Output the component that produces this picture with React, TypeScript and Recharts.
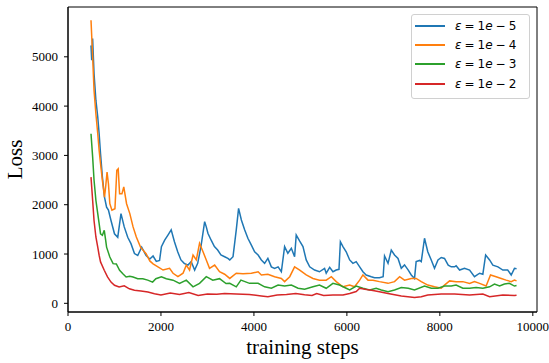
import React from 'react';
import { LineChart, Line, XAxis, YAxis, ReferenceArea, Legend } from 'recharts';

const xTicks = [0, 2000, 4000, 6000, 8000, 10000];
const yTicks = [0, 1000, 2000, 3000, 4000, 5000];
const seriesExponents = ['5', '4', '3', '2'];
const seriesColors = ['#1f77b4', '#ff7f0e', '#2ca02c', '#d62728'];

const blueSteps = [495, 510, 530, 560, 600, 640, 670, 700, 740, 785, 830, 870, 925, 1000, 1070, 1140, 1210, 1285, 1355, 1430, 1500, 1585, 1680, 1760, 1830, 1900, 1970, 2010, 2080, 2150, 2220, 2290, 2360, 2430, 2500, 2580, 2650, 2725, 2790, 2860, 2940, 2975, 3010, 3080, 3150, 3220, 3290, 3370, 3440, 3480, 3550, 3620, 3670, 3730, 3800, 3870, 3945, 4015, 4090, 4160, 4230, 4300, 4375, 4445, 4520, 4590, 4660, 4730, 4805, 4875, 4910, 4985, 5055, 5125, 5200, 5305, 5410, 5520, 5555, 5630, 5700, 5770, 5830, 5860, 5915, 5985, 6060, 6130, 6200, 6275, 6345, 6415, 6525, 6595, 6700, 6780, 6810, 6885, 6955, 7025, 7100, 7170, 7240, 7320, 7385, 7455, 7490, 7565, 7600, 7670, 7740, 7815, 7885, 7960, 8030, 8100, 8180, 8245, 8315, 8350, 8425, 8530, 8640, 8745, 8855, 8925, 8985, 9070, 9140, 9250, 9355, 9460, 9535, 9605, 9650];
const blueLoss = [5230, 4930, 5370, 4660, 4120, 3780, 3440, 3035, 2560, 2155, 1950, 1890, 1680, 1410, 1340, 1820, 1550, 1340, 1210, 1010, 970, 1140, 970, 900, 960, 850, 870, 1150, 1280, 1385, 1490, 1250, 1045, 880, 810, 775, 845, 675, 810, 1150, 1655, 1550, 1420, 1280, 1150, 1080, 980, 945, 910, 880, 945, 1490, 1925, 1690, 1490, 1320, 1180, 1045, 980, 880, 810, 910, 740, 710, 740, 640, 1150, 1015, 1115, 945, 1385, 1260, 1150, 880, 740, 675, 640, 710, 610, 730, 640, 675, 690, 1250, 1150, 1045, 880, 810, 845, 740, 640, 575, 540, 520, 520, 540, 960, 810, 1080, 980, 910, 710, 780, 675, 575, 505, 845, 870, 845, 1320, 1045, 880, 710, 880, 930, 910, 775, 740, 740, 760, 675, 710, 675, 540, 610, 590, 980, 880, 775, 740, 675, 675, 575, 710, 700];

const orangeSteps = [495, 530, 560, 600, 640, 670, 700, 740, 785, 810, 840, 870, 900, 945, 1010, 1050, 1080, 1110, 1160, 1200, 1260, 1330, 1400, 1470, 1560, 1680, 1760, 1830, 1900, 2045, 2185, 2260, 2365, 2475, 2545, 2615, 2690, 2760, 2830, 2905, 2975, 3045, 3155, 3260, 3370, 3480, 3620, 3765, 3945, 4090, 4160, 4300, 4445, 4590, 4660, 4770, 4875, 4985, 5125, 5270, 5410, 5555, 5665, 5770, 5915, 6060, 6165, 6275, 6345, 6455, 6560, 6700, 6885, 7025, 7135, 7240, 7385, 7490, 7600, 7740, 7885, 8030, 8100, 8210, 8350, 8495, 8640, 8745, 8855, 8995, 9090, 9210, 9320, 9425, 9535, 9605, 9650];
const orangeLoss = [5740, 5000, 4320, 3845, 3440, 3100, 2830, 2495, 2155, 2360, 2660, 2425, 2020, 1890, 1920, 2700, 2730, 2220, 2220, 2360, 2020, 1820, 1550, 1345, 1140, 1005, 860, 800, 760, 675, 710, 610, 540, 610, 775, 675, 980, 880, 1215, 1045, 880, 710, 775, 640, 590, 505, 610, 600, 610, 640, 575, 590, 540, 505, 440, 540, 740, 675, 575, 505, 470, 470, 540, 440, 335, 370, 335, 470, 575, 470, 470, 440, 405, 440, 540, 470, 505, 505, 440, 370, 335, 305, 370, 455, 440, 440, 405, 440, 405, 350, 575, 540, 505, 470, 440, 470, 455];

const greenSteps = [495, 530, 560, 600, 640, 670, 700, 740, 780, 810, 830, 900, 970, 1040, 1110, 1180, 1250, 1330, 1400, 1500, 1610, 1715, 1820, 1890, 2010, 2115, 2260, 2400, 2545, 2690, 2830, 2975, 3115, 3260, 3400, 3480, 3620, 3720, 3905, 4090, 4230, 4375, 4520, 4660, 4805, 4950, 5090, 5270, 5410, 5555, 5700, 5840, 5985, 6060, 6200, 6345, 6490, 6630, 6740, 6885, 7025, 7170, 7320, 7455, 7670, 7815, 7960, 8100, 8245, 8350, 8495, 8640, 8780, 8925, 9070, 9175, 9285, 9390, 9495, 9605, 9650];
const greenLoss = [3440, 2970, 2500, 2090, 1820, 1615, 1410, 1380, 1480, 1280, 1140, 940, 805, 800, 670, 600, 535, 550, 535, 500, 500, 470, 430, 500, 540, 500, 470, 405, 470, 335, 405, 540, 470, 500, 400, 405, 335, 470, 405, 405, 335, 305, 370, 350, 370, 305, 285, 335, 370, 305, 405, 370, 305, 270, 350, 305, 270, 305, 270, 235, 270, 320, 305, 270, 350, 305, 305, 350, 350, 370, 305, 305, 320, 305, 335, 390, 350, 390, 405, 350, 360];

const redSteps = [495, 530, 560, 600, 640, 670, 700, 780, 850, 925, 1000, 1100, 1210, 1320, 1430, 1570, 1720, 1860, 2000, 2200, 2400, 2600, 2800, 3000, 3200, 3370, 3620, 3900, 4160, 4300, 4500, 4700, 4900, 5090, 5250, 5350, 5500, 5700, 5915, 6060, 6200, 6275, 6420, 6560, 6700, 6885, 7170, 7455, 7600, 7740, 8030, 8315, 8640, 8925, 9070, 9355, 9605, 9650];
const redLoss = [2560, 2090, 1680, 1345, 1140, 975, 840, 670, 535, 430, 365, 330, 355, 295, 265, 250, 230, 195, 170, 210, 180, 220, 160, 190, 185, 200, 190, 180, 150, 135, 170, 180, 200, 175, 160, 200, 160, 170, 170, 200, 240, 305, 280, 260, 235, 200, 150, 120, 135, 170, 190, 190, 170, 190, 135, 170, 160, 165];

const toPoints = (steps: number[], loss: number[]) => steps.map((x, i) => ({ x, y: loss[i] }));

const series = [
  toPoints(blueSteps, blueLoss),
  toPoints(orangeSteps, orangeLoss),
  toPoints(greenSteps, greenLoss),
  toPoints(redSteps, redLoss),
];

const X_DOMAIN: [number, number] = [0, 10090];
const Y_DOMAIN: [number, number] = [-176, 6010];

const serif = '"Liberation Serif", "Times New Roman", serif';

function XTitle(props: any) {
  const vb = props.viewBox || { x: 68, y: 312, width: 469, height: 51 };
  return (
    <text x={vb.x + vb.width / 2} y={vb.y + 42} textAnchor="middle" fontSize={21} fontFamily={serif} fill="#000">
      training steps
    </text>
  );
}

function YTitle(props: any) {
  const vb = props.viewBox || { x: 0, y: 7, width: 68, height: 305 };
  const cx = 22;
  const cy = vb.y + vb.height / 2;
  return (
    <text x={cx} y={cy} transform={`rotate(-90 ${cx} ${cy})`} textAnchor="middle" fontSize={21} fontFamily={serif} fill="#000">
      Loss
    </text>
  );
}

function LegendBox() {
  return (
    <div
      style={{
        width: 117,
        height: 82,
        border: '1px solid #d0d0d0',
        borderRadius: 3,
        background: '#fff',
        boxSizing: 'content-box',
        paddingTop: 1,
        fontFamily: '"DejaVu Sans", sans-serif',
        fontSize: 12,
        color: '#000',
      }}
    >
      {seriesExponents.map((exp, i) => (
        <div key={exp} style={{ height: 19.3, display: 'flex', alignItems: 'center' }}>
          <span style={{ display: 'inline-block', width: 30, height: 2, marginLeft: 3, background: seriesColors[i] }} />
          <span style={{ marginLeft: 10, whiteSpace: 'nowrap' }}>
            <i>ε</i>
            <span style={{ margin: '0 3px' }}>=</span>1<i>e</i>
            <span style={{ margin: '0 3px' }}>−</span>
            {exp}
          </span>
        </div>
      ))}
    </div>
  );
}

export default function App() {
  return (
    <div style={{ position: 'absolute', left: 0, top: 0, width: 549, height: 363, background: '#fff' }}>
      <LineChart width={549} height={363} margin={{ top: 7, right: 12, left: 0, bottom: 0 }}>
        <XAxis
          type="number"
          dataKey="x"
          domain={X_DOMAIN}
          ticks={xTicks}
          interval={0}
          allowDataOverflow
          height={51}
          tickSize={4}
          tickMargin={6}
          axisLine={{ stroke: '#000' }}
          tickLine={{ stroke: '#000' }}
          tick={{ fontFamily: serif, fontSize: 13, fill: '#000' }}
          label={<XTitle />}
        />
        <YAxis
          type="number"
          dataKey="y"
          domain={Y_DOMAIN}
          ticks={yTicks}
          interval={0}
          allowDataOverflow
          width={68}
          tickSize={4}
          tickMargin={6}
          axisLine={{ stroke: '#000' }}
          tickLine={{ stroke: '#000' }}
          tick={{ fontFamily: serif, fontSize: 13, fill: '#000' }}
          label={<YTitle />}
        />
        <ReferenceArea x1={X_DOMAIN[0]} x2={X_DOMAIN[1]} y1={Y_DOMAIN[0]} y2={Y_DOMAIN[1]} fill="none" stroke="#000" strokeWidth={1} ifOverflow="visible" />
        {series.map((pts, i) => (
          <Line
            key={i}
            data={pts}
            dataKey="y"
            type="linear"
            stroke={seriesColors[i]}
            strokeWidth={1.5}
            dot={false}
            activeDot={false}
            isAnimationActive={false}
          />
        ))}
        <Legend
          layout="vertical"
          align="center"
          verticalAlign="middle"
          content={<LegendBox />}
          wrapperStyle={{ left: 411, top: 14, width: 119 }}
        />
      </LineChart>
    </div>
  );
}
